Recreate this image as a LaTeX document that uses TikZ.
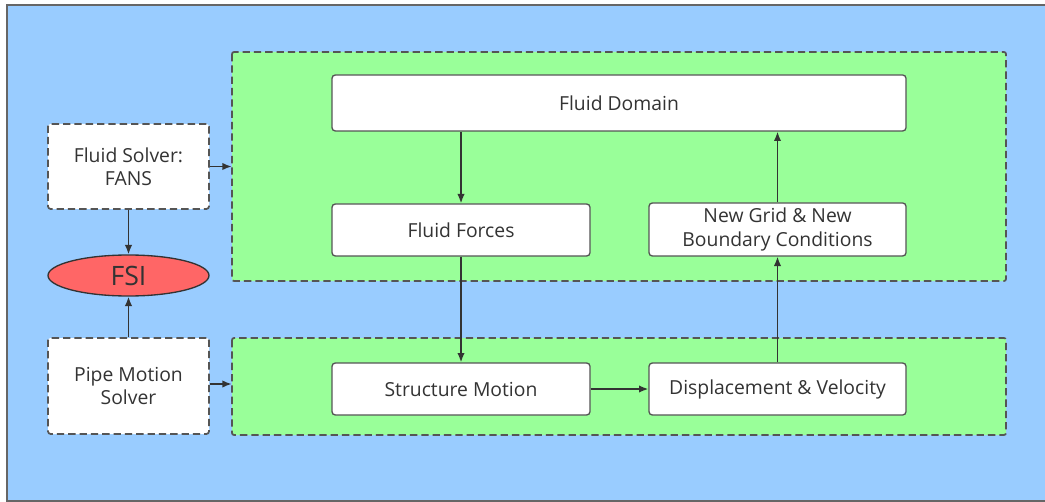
\documentclass[tikz,border=0pt]{standalone}
\usepackage{fontspec}
\setmainfont{Open Sans}
\usetikzlibrary{shapes.geometric,arrows.meta}
\definecolor{bgblue}{HTML}{99CCFF}
\definecolor{grpgreen}{HTML}{99FF99}
\definecolor{fsired}{HTML}{FF6666}
\definecolor{linec}{HTML}{333333}
\definecolor{bordc}{HTML}{555555}
\tikzset{
  px/.style={x=0.75pt,y=-0.75pt},
  grp/.style={draw=bordc,fill=grpgreen,dash pattern=on 5.5pt off 3pt,line width=1.3pt,rounded corners=1.5pt},
  solver/.style={draw=bordc,fill=white,dash pattern=on 5.5pt off 3pt,line width=1.3pt,rounded corners=2pt,align=center,font=\fontsize{14.5}{17.5}\selectfont,text=linec},
  box/.style={draw=bordc,fill=white,line width=1pt,rounded corners=2.5pt,align=center,font=\fontsize{14.5}{17.5}\selectfont,text=linec},
  arr/.style={draw=linec,line width=1.1pt,-{Latex[length=7pt,width=5.5pt]}}
}
\begin{document}
\begin{tikzpicture}[px]
\useasboundingbox (0,0) rectangle (1045,502);
\fill[white] (0,0) rectangle (1045,502);
\begin{scope}
\clip (0,0) rectangle (1045,502);
\filldraw[fill=bgblue,draw=gray!80!black,line width=1.2pt] (7,5) rectangle (1060,501);
\end{scope}
% groups
\path[grp] (232,52) rectangle (1006,281);
\node[inner sep=0,minimum size=0] (gtop) at (232,166.5) {};
\path[grp] (232,338) rectangle (1006,435);
\node[inner sep=0,minimum size=0] (gbot) at (232,384) {};
% solver boxes
\node[solver,minimum width=161*0.75pt,minimum height=85*0.75pt] (fs) at (128.5,166.5) {Fluid Solver:\\FANS};
\node[solver,minimum width=161*0.75pt,minimum height=96*0.75pt] (pm) at (128.5,386) {Pipe Motion\\Solver};
\node[ellipse,draw=linec,fill=fsired,line width=1pt,minimum width=161*0.75pt,minimum height=41*0.75pt,inner sep=0,font=\fontsize{20}{22}\selectfont,text=linec] (fsi) at (128.5,275.5) {FSI};
% process boxes
\node[box,minimum width=574*0.75pt,minimum height=56*0.75pt] (fd) at (619,103) {Fluid Domain};
\node[box,minimum width=258*0.75pt,minimum height=52*0.75pt] (ff) at (461,230) {Fluid Forces};
\node[box,minimum width=257*0.75pt,minimum height=53*0.75pt] (ng) at (777.5,229.5) {New Grid \& New\\Boundary Conditions};
\node[box,minimum width=258*0.75pt,minimum height=52*0.75pt] (sm) at (461,389) {Structure Motion};
\node[box,minimum width=257*0.75pt,minimum height=52*0.75pt] (dv) at (777.5,389) {Displacement \& Velocity};
% arrows
\draw[arr] (fs.east |- gtop) -- (gtop);
\draw[arr] (pm.east |- gbot) -- (gbot);
\draw[arr] (fs.south) -- (fsi.north);
\draw[arr] (pm.north) -- (fsi.south);
\draw[arr] (fd.south -| ff.north) -- (ff.north);
\draw[arr] (ff.south) -- (sm.north);
\draw[arr] (sm.east) -- (dv.west);
\draw[arr] (dv.north) -- (ng.south);
\draw[arr] (ng.north) -- (ng.north |- fd.south);
\end{tikzpicture}
\end{document}
